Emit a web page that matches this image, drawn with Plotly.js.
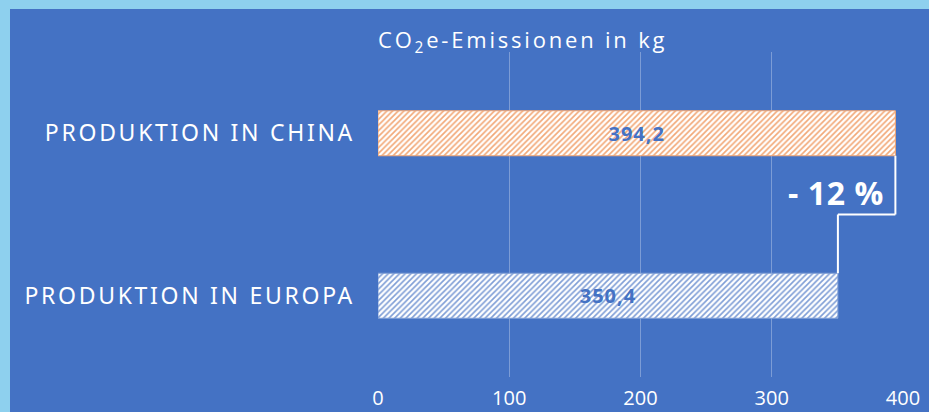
<!DOCTYPE html>
<html>
<head>
<meta charset="utf-8">
<script src="https://cdn.plot.ly/plotly-3.0.1.min.js"></script>
<style>
  html, body { margin: 0; padding: 0; background: #8ED0EE; width: 929px; height: 412px; overflow: hidden; }
  #chart { position: absolute; left: 10px; top: 9px; width: 919px; height: 403px; }
  .ytick text { letter-spacing: 2.7px; }
  .gtitle { letter-spacing: 2.8px; }
  .bartext { letter-spacing: 1px; }
  .annotation-text { letter-spacing: 0.6px; }
</style>
</head>
<body>
<div id="chart"></div>
<script>
// Data
const categories = ["PRODUKTION IN CHINA", "PRODUKTION IN EUROPA"];
const values = [394.2, 350.4];
const xTicks = [0, 100, 200, 300, 400];
const chartTitle = "CO<sub>2</sub>e-Emissionen in kg";
const diffLabel = "- 12 %";

const barFg = ["#F2A877", "#7F9ED6"];
const bgBlue = "#4472C4";

const barFraction = 0.277;
const traces = categories.map((c, i) => ({
  type: "bar",
  orientation: "h",
  y: [c],
  x: [values[i]],
  width: barFraction,
  marker: {
    color: "white",
    line: { color: barFg[i], width: 1 },
    pattern: { shape: "/", fgcolor: barFg[i], bgcolor: "white", size: 4, solidity: 0.4 }
  },
  text: [values[i].toFixed(1).replace(".", ",")],
  textposition: "inside",
  insidetextanchor: "middle",
  textangle: 0,
  insidetextfont: { family: "Open Sans, sans-serif", size: 20, color: bgBlue, weight: 700 },
  hoverinfo: "skip",
  showlegend: false
}));

const half = barFraction / 2;
const lineStyle = { color: "white", width: 2 };
const shapes = [
  { type: "line", xref: "x", yref: "y", x0: values[0], x1: values[0], y0: 0 + half, y1: 0.5, line: lineStyle },
  { type: "line", xref: "x", yref: "y", x0: values[0], x1: values[1], y0: 0.5, y1: 0.5, line: lineStyle },
  { type: "line", xref: "x", yref: "y", x0: values[1], x1: values[1], y0: 0.5, y1: 1 - half, line: lineStyle }
];

const layout = {
  width: 919, height: 403,
  margin: { l: 367.5, r: 25.5, t: 43, b: 35 },
  paper_bgcolor: bgBlue,
  plot_bgcolor: bgBlue,
  font: { family: "Open Sans, sans-serif", color: "white" },
  title: {
    text: chartTitle,
    font: { family: "Open Sans, sans-serif", size: 22, color: "white" },
    xref: "paper", x: 0, xanchor: "left",
    yref: "container", y: 0.922, yanchor: "middle"
  },
  xaxis: {
    range: [0, 400],
    tickvals: xTicks,
    ticktext: xTicks.map(String),
    showgrid: true,
    gridcolor: "rgba(255,255,255,0.3)",
    gridwidth: 1,
    zeroline: false,
    showline: false,
    ticks: "",
    ticklabelstandoff: 7,
    tickfont: { family: "Open Sans, sans-serif", size: 20, color: "white" },
    fixedrange: true
  },
  yaxis: {
    type: "category",
    categoryorder: "array",
    categoryarray: categories,
    range: [1.5, -0.5],
    showgrid: false,
    zeroline: false,
    showline: false,
    ticks: "",
    ticklabelstandoff: 22,
    tickfont: { family: "Noto Sans, sans-serif", size: 23, color: "white" },
    fixedrange: true
  },
  shapes: shapes,
  annotations: [{
    xref: "x", yref: "y",
    x: values[0], y: 0.5,
    xanchor: "right", yanchor: "bottom",
    xshift: -9, yshift: -1,
    text: "<b>" + diffLabel + "</b>",
    showarrow: false,
    font: { family: "Open Sans, sans-serif", size: 32, color: "white" }
  }],
  barmode: "overlay"
};

Plotly.newPlot("chart", traces, layout, { displayModeBar: false, staticPlot: true });
</script>
</body>
</html>
